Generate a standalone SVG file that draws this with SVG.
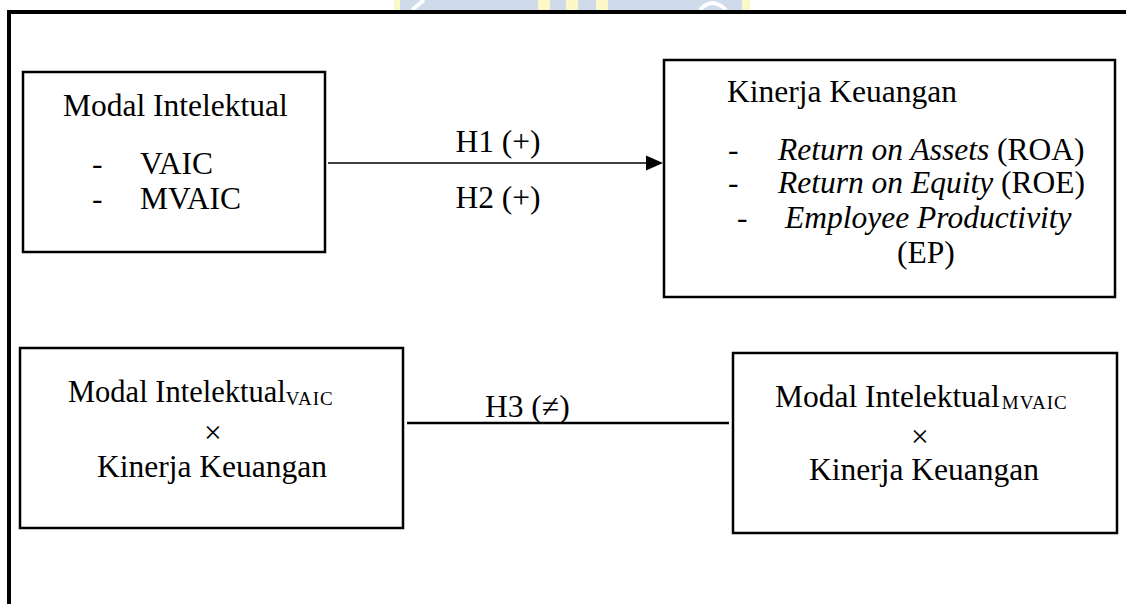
<svg xmlns="http://www.w3.org/2000/svg" width="1126" height="604" viewBox="0 0 1126 604">
<defs>
<style>
.t{font-family:"Liberation Serif","Times New Roman",serif;font-size:31.5px;fill:#000}
.i{font-style:italic}
.sub{font-size:19px;letter-spacing:1px}
.box{fill:#fff;stroke:#000;stroke-width:2.5}
.c{text-anchor:middle}
</style>
</defs>
<rect width="1126" height="604" fill="#fff"/>
<g id="watermark">
<rect x="400" y="0" width="342" height="10" fill="#cfdaea"/>
<rect x="394" y="0" width="6" height="10" fill="#fdf8c8"/>
<rect x="538" y="0" width="12" height="10" fill="#fdf8c8"/>
<rect x="566" y="0" width="12" height="10" fill="#fdf8c8"/>
<rect x="596" y="0" width="12" height="10" fill="#fdf8c8"/>
<rect x="742" y="0" width="8" height="10" fill="#fdf8c8"/>
<path d="M412 10 L424 0" stroke="#fff" stroke-width="4"/>
<path d="M700 10 Q712 -4 726 10" stroke="#fff" stroke-width="4" fill="none"/>
</g>
<path id="frame" d="M9 604 V12 H1126" fill="none" stroke="#000" stroke-width="4"/>
<g id="connectors">
<line x1="328" y1="163" x2="648" y2="163" stroke="#000" stroke-width="1.5"/>
<polygon points="646,155.5 663,163 646,170.5" fill="#000"/>
<text class="t c" x="498" y="152">H1 (+)</text>
<text class="t c" x="498" y="208">H2 (+)</text>
<line x1="407" y1="423" x2="729" y2="423" stroke="#000" stroke-width="2.5"/>
<text class="t" x="485" y="417">H3 (≠)</text>
</g>
<g id="modal-intelektual">
<rect class="box" x="23" y="72" width="302" height="180"/>
<text class="t" x="63" y="116">Modal Intelektual</text>
<text class="t" x="92" y="174">-</text>
<text class="t" x="140" y="174">VAIC</text>
<text class="t" x="92" y="209">-</text>
<text class="t" x="140" y="209">MVAIC</text>
</g>
<g id="kinerja-keuangan">
<rect class="box" x="664" y="60" width="451" height="237"/>
<text class="t" x="727" y="102">Kinerja Keuangan</text>
<text class="t" x="728" y="160">-</text>
<text class="t" x="778" y="160"><tspan class="i">Return on Assets</tspan> (ROA)</text>
<text class="t" x="728" y="193">-</text>
<text class="t" x="778" y="193"><tspan class="i">Return on Equity</tspan> (ROE)</text>
<text class="t" x="737" y="228">-</text>
<text class="t i" x="785" y="228">Employee Productivity</text>
<text class="t" x="897" y="263">(EP)</text>
</g>
<g id="mi-vaic">
<rect class="box" x="20" y="348" width="383" height="180"/>
<text class="t" x="68" y="402" style="font-size:30.5px">Modal Intelektual<tspan class="sub" dy="3">VAIC</tspan></text>
<text class="t c" x="213" y="443">×</text>
<text class="t c" x="212" y="477">Kinerja Keuangan</text>
</g>
<g id="mi-mvaic">
<rect class="box" x="733" y="353" width="384" height="180"/>
<text class="t" x="775" y="407">Modal Intelektual<tspan class="sub" dx="2" dy="2">MVAIC</tspan></text>
<text class="t c" x="920" y="447">×</text>
<text class="t c" x="924" y="480">Kinerja Keuangan</text>
</g>
</svg>
